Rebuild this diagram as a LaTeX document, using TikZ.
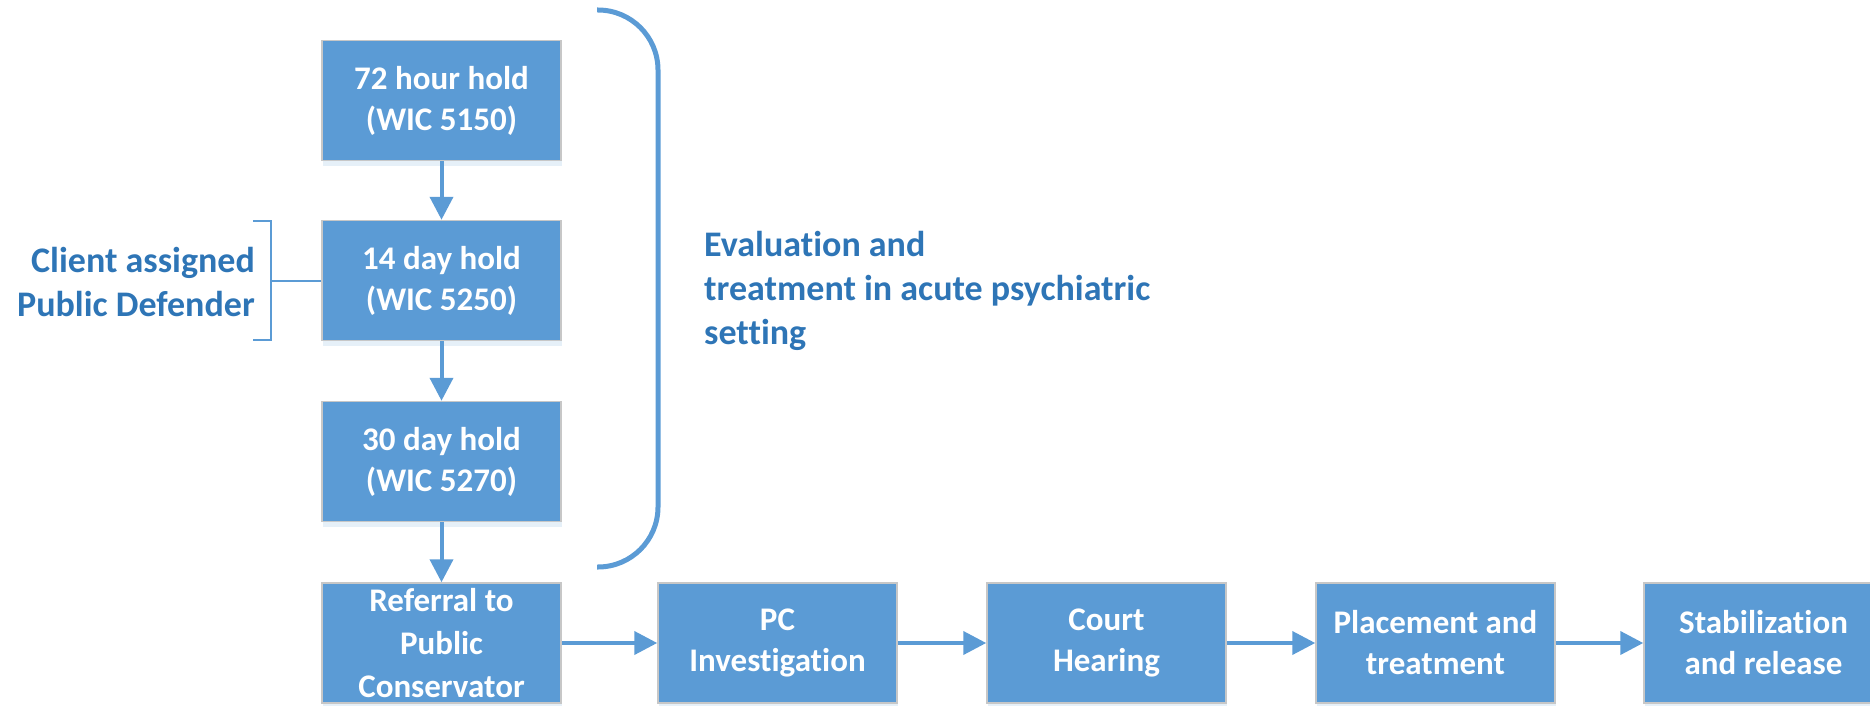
\documentclass[tikz,border=0pt]{standalone}
\usepackage{fontspec}
\setmainfont{Carlito}[Ligatures=CommonOff]
\usetikzlibrary{arrows.meta,shadows}
\definecolor{boxblue}{rgb}{0.357,0.608,0.835}
\definecolor{edgegray}{rgb}{0.78,0.78,0.78}
\definecolor{labelblue}{rgb}{0.18,0.459,0.714}
\tikzset{
  holdbox/.style={rectangle, fill=boxblue, draw=edgegray, line width=1.5pt,
    minimum width=239pt, minimum height=120pt, inner sep=0pt, align=center,
    text=white, font=\fontsize{33}{41}\selectfont\bfseries,
    drop shadow={shadow xshift=1pt, shadow yshift=-5pt, fill=boxblue!30, opacity=.5}},
  flow/.style={-{Triangle[length=23pt,width=23pt]}, line width=4pt, color=boxblue},
  sidelabel/.style={text=labelblue, font=\fontsize{36}{44}\selectfont\bfseries, inner sep=0pt}
}

\begin{document}
\begin{tikzpicture}[line join=miter,x=1pt,y=-1pt]
            \clip (0,0) rectangle (1870,706);
            \node [holdbox] (h72) at (441.5,100.5) {72 hour hold\\(WIC 5150)};
            \node [holdbox] (h14) at (441.5,280.5) {14 day hold\\(WIC 5250)};
            \node [holdbox] (h30) at (441.5,461.5) {30 day hold\\(WIC 5270)};
            \node [holdbox, font=\fontsize{33}{43}\selectfont\bfseries] (refer) at (441.5,643) {Referral to\\Public\\Conservator};
            \node [holdbox] (invest) at (777.5,643) {PC\\Investigation};
            \node [holdbox] (court) at (1106.5,643) {Court\\Hearing};
            \node [holdbox] (place) at (1435.5,643) {Placement and\\treatment};
            \node [holdbox] (release) at (1763.5,643) {Stabilization\\and release};
            \draw [flow] (h72) -- (h14);
            \draw [flow] (h14) -- (h30);
            \draw [flow] (h30) -- (refer);
            \draw [flow] (refer) -- (invest);
            \draw [flow] (invest) -- (court);
            \draw [flow] (court) -- (place);
            \draw [flow] (place) -- (release);
            \draw [line width=5pt, color=boxblue, rounded corners=60pt] (597,10) -- (658,10) -- (658,567) -- (597,567);
            \node [sidelabel, anchor=west, align=left] (evaltext) at (704,291) {Evaluation and\\treatment in acute psychiatric\\setting};
            \coordinate (brk) at (271,280.5);
            \draw [line width=2pt, color=boxblue] (253,221) -- (271,221) -- (271,340) -- (253,340);
            \draw [line width=2pt, color=boxblue] (brk) -- (h14.west);
            \node [sidelabel, anchor=east, align=right] (defender) at (255,281.5) {Client assigned\\Public Defender};
\end{tikzpicture}
\end{document}
